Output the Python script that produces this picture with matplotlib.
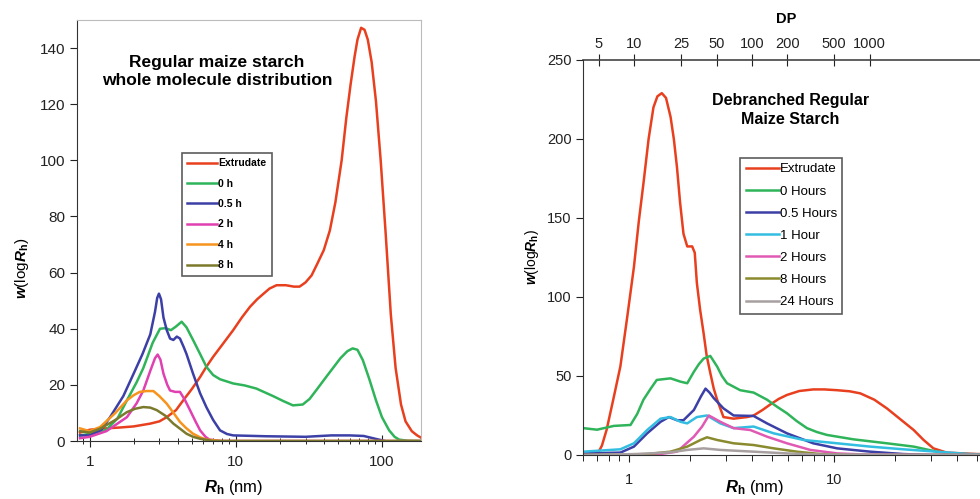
import numpy as np
import matplotlib
matplotlib.use("Agg")
import matplotlib.pyplot as plt

plt.rcParams['font.family'] = ['Liberation Sans', 'DejaVu Sans']
plt.rcParams['mathtext.fontset'] = 'custom'
plt.rcParams['mathtext.rm'] = 'Liberation Sans:bold'
plt.rcParams['mathtext.it'] = 'Liberation Sans:italic:bold'

# --- Left panel: whole molecule distribution (Rh in nm, w(logRh)) ---
L_ext_x = [0.86, 1.0, 1.18, 1.6, 2.0, 2.6, 3.0, 3.37, 3.9, 4.37, 5.0, 5.7, 6.3, 7.0, 8.0, 9.6,
           11.0, 12.5, 14.0, 15.5, 17.0, 19.0, 22.0, 25.0, 27.3, 30.0, 33.0, 36.0, 40.0, 44.0,
           48.0, 53.0, 57.0, 61.0, 65.0, 68.0, 72.0, 76.0, 80.0, 85.0, 91.0, 98.0, 106.0,
           115.0, 124.0, 135.0, 145.0, 160.0, 174.0, 185.0]
L_ext_y = [3.0, 4.0, 4.4, 4.8, 5.2, 6.2, 7.0, 8.5, 11.0, 14.5, 18.5, 22.8, 26.5, 30.0, 34.0,
           39.5, 44.0, 47.8, 50.5, 52.5, 54.3, 55.5, 55.5, 55.0, 55.0, 56.5, 59.0, 63.0, 68.0,
           75.0, 85.0, 100.0, 115.0, 127.0, 137.0, 143.0, 147.2, 146.5, 143.0, 135.0, 121.0,
           100.0, 74.0, 45.0, 26.0, 13.0, 7.0, 3.5, 2.0, 1.2]

L_0h_x = [0.86, 1.0, 1.3, 1.55, 1.8, 2.1, 2.33, 2.7, 3.03, 3.3, 3.6, 3.9, 4.26, 4.6, 5.1, 5.7,
          6.3, 7.0, 7.8, 9.6, 11.5, 13.8, 18.0, 21.0, 24.6, 28.7, 32.0, 36.0, 41.5, 47.0,
          52.0, 58.0, 63.0, 68.0, 74.0, 82.0, 91.0, 100.0, 112.0, 122.0, 131.0, 150.0, 185.0]
L_0h_y = [2.0, 2.5, 4.0, 8.0, 14.5, 21.0, 26.0, 35.0, 40.0, 40.2, 39.5, 40.8, 42.5, 40.5, 36.0,
          31.0, 26.4, 23.5, 22.0, 20.5, 19.8, 18.7, 16.0, 14.3, 12.7, 13.0, 15.0, 18.5, 22.8,
          26.5, 29.5, 32.0, 33.0, 32.5, 28.8, 22.0, 14.5, 8.5, 3.8, 1.5, 0.5, 0.1, 0.0]

L_05h_x = [0.86, 1.0, 1.2, 1.38, 1.7, 2.0, 2.3, 2.6, 2.8, 2.9, 2.98, 3.08, 3.2, 3.37, 3.55,
           3.74, 3.95, 4.15, 4.4, 4.6, 5.1, 5.7, 6.3, 7.0, 7.8, 8.7, 9.6, 16.0, 30.0, 45.0,
           60.0, 75.0, 90.0, 105.0]
L_05h_y = [2.0, 2.0, 4.0, 8.5, 16.0, 24.0, 31.0, 38.0, 46.0, 51.0, 52.5, 50.5, 44.0, 39.5, 36.5,
           36.0, 37.2, 36.5, 33.5, 31.0, 24.0, 17.0, 12.0, 7.5, 3.8, 2.5, 2.0, 1.7, 1.5, 2.0,
           2.0, 1.8, 0.8, 0.0]

L_2h_x = [0.86, 1.0, 1.3, 1.8, 2.1, 2.33, 2.6, 2.8, 2.92, 3.05, 3.2, 3.4, 3.55, 3.85, 4.15,
          4.5, 4.86, 5.3, 5.7, 6.2, 6.6, 8.0, 185.0]
L_2h_y = [1.0, 1.5, 3.5, 8.5, 13.5, 18.0, 25.0, 29.5, 30.8, 29.0, 24.0, 20.0, 18.0, 17.5, 17.5,
          14.5, 11.0, 7.0, 3.8, 1.5, 0.5, 0.0, 0.0]

L_4h_x = [0.86, 1.0, 1.18, 1.5, 1.8, 2.0, 2.2, 2.45, 2.73, 3.0, 3.37, 3.75, 4.15, 4.6, 5.1, 5.7,
          6.3, 8.0, 185.0]
L_4h_y = [4.5, 3.5, 5.0, 10.0, 14.5, 16.3, 17.5, 17.8, 17.8, 16.0, 13.3, 10.0, 6.8, 4.5, 2.6,
          1.3, 0.5, 0.0, 0.0]

L_8h_x = [0.86, 1.0, 1.18, 1.5, 1.8, 2.05, 2.33, 2.6, 2.88, 3.3, 3.74, 4.2, 4.6, 5.1, 5.7, 7.0,
          185.0]
L_8h_y = [3.5, 3.0, 4.4, 7.5, 10.3, 11.5, 12.1, 11.9, 11.0, 9.0, 6.2, 4.2, 2.6, 1.5, 0.8, 0.0,
          0.0]

left_series = [
    ('Extrudate', L_ext_x, L_ext_y, '#e8401f'),
    ('0 h', L_0h_x, L_0h_y, '#2fb45a'),
    ('0.5 h', L_05h_x, L_05h_y, '#3c3fa6'),
    ('2 h', L_2h_x, L_2h_y, '#e040b0'),
    ('4 h', L_4h_x, L_4h_y, '#f7941d'),
    ('8 h', L_8h_x, L_8h_y, '#7b7a2c'),
]

# --- Right panel: debranched distribution ---
R_ext_x = [0.60, 0.70, 0.74, 0.78, 0.84, 0.91, 0.98, 1.06, 1.12, 1.18, 1.25, 1.32, 1.38, 1.45,
           1.52, 1.6, 1.66, 1.72, 1.78, 1.85, 1.93, 2.04, 2.1, 2.15, 2.23, 2.32, 2.4, 2.5, 2.6,
           2.7, 2.9, 3.25, 3.78, 4.07, 4.5, 4.91, 5.4, 5.92, 6.8, 7.95, 9.0, 10.4, 12.0, 13.5,
           15.8, 18.2, 21.0, 24.6, 27.5, 30.7, 35.7, 50.0, 58.0]
R_ext_y = [0.0, 0.0, 6.0, 16.0, 35.0, 56.0, 86.0, 119.0, 148.0, 172.0, 200.0, 220.0, 227.0,
           229.0, 226.0, 214.0, 200.0, 182.0, 160.0, 140.0, 132.0, 132.0, 128.0, 109.0, 92.0,
           77.0, 63.0, 52.0, 42.0, 35.0, 24.0, 23.0, 24.0, 25.0, 28.5, 32.0, 35.5, 38.0, 40.5,
           41.5, 41.5, 41.0, 40.3, 39.0, 35.0, 29.5, 23.0, 15.8, 9.5, 4.2, 1.5, 0.6, 0.5]

R_0h_x = [0.60, 0.70, 0.845, 1.02, 1.1, 1.18, 1.28, 1.37, 1.6, 1.79, 1.93, 2.08, 2.2, 2.32, 2.5,
          2.7, 2.85, 3.02, 3.5, 4.07, 4.73, 5.3, 5.92, 6.6, 7.41, 8.3, 9.27, 12.5, 18.2, 24.6,
          31.9, 38.5, 50.0, 58.0]
R_0h_y = [17.0, 16.0, 18.4, 19.0, 26.0, 35.0, 42.0, 47.5, 48.5, 46.4, 45.4, 52.7, 57.5, 61.0,
          62.7, 56.0, 50.0, 45.4, 41.0, 39.5, 35.0, 30.5, 26.4, 21.5, 17.0, 14.5, 12.7, 9.9,
          7.4, 5.3, 2.1, 0.6, 0.0, 0.0]

R_05h_x = [0.60, 0.91, 1.06, 1.23, 1.43, 1.57, 1.72, 1.85, 2.08, 2.25, 2.37, 2.48, 2.6, 2.9,
           3.25, 4.07, 4.73, 5.92, 7.95, 10.4, 15.1, 21.9, 30.0, 58.0]
R_05h_y = [1.0, 1.5, 5.3, 13.7, 21.0, 24.0, 22.0, 22.0, 28.5, 37.0, 42.0, 39.5, 36.0, 29.5,
           25.0, 24.7, 20.0, 13.7, 7.4, 4.2, 2.1, 0.6, 0.0, 0.0]

R_1h_x = [0.60, 0.91, 1.06, 1.23, 1.43, 1.6, 1.79, 1.93, 2.15, 2.41, 2.8, 3.25, 4.07, 5.1, 7.14,
          10.4, 15.1, 21.9, 31.9, 46.0, 58.0]
R_1h_y = [2.1, 3.6, 7.4, 15.8, 23.0, 24.0, 21.0, 20.0, 24.0, 25.0, 20.0, 17.0, 18.0, 13.7, 9.5,
          7.4, 5.3, 3.6, 2.1, 0.6, 0.3]

R_2h_x = [0.60, 1.32, 1.72, 2.08, 2.28, 2.46, 2.8, 3.25, 3.92, 4.73, 5.92, 7.7, 10.4, 14.0, 58.0]
R_2h_y = [0.0, 0.0, 2.1, 11.6, 18.0, 25.0, 21.0, 17.0, 15.8, 11.6, 7.4, 3.2, 1.0, 0.3, 0.0]

R_8h_x = [0.60, 1.23, 1.6, 1.93, 2.24, 2.41, 2.7, 3.25, 4.07, 5.1, 6.62, 8.6, 12.0, 58.0]
R_8h_y = [0.0, 0.6, 2.1, 5.3, 9.5, 11.2, 9.5, 7.4, 6.3, 4.2, 2.1, 0.6, 0.0, 0.0]

R_24h_x = [0.60, 1.1, 1.6, 1.93, 2.32, 2.8, 4.07, 5.92, 8.5, 58.0]
R_24h_y = [0.0, 0.6, 1.7, 3.2, 4.2, 3.2, 2.1, 1.0, 0.3, 0.0]

right_series = [
    ('Extrudate', R_ext_x, R_ext_y, '#e8401f'),
    ('0 Hours', R_0h_x, R_0h_y, '#2fb45a'),
    ('0.5 Hours', R_05h_x, R_05h_y, '#3c3fa6'),
    ('1 Hour', R_1h_x, R_1h_y, '#33bde0'),
    ('2 Hours', R_2h_x, R_2h_y, '#e05ab4'),
    ('8 Hours', R_8h_x, R_8h_y, '#8a8a2e'),
    ('24 Hours', R_24h_x, R_24h_y, '#a8a0a0'),
]

DP_TICKS = [5, 10, 25, 50, 100, 200, 500, 1000]
DP_A, DP_B = 0.284, 0.574   # Rh = a * DP^b

fig = plt.figure(figsize=(9.8, 4.99), dpi=100)

# ---------------- Left panel ----------------
ax1 = fig.add_axes([0.0786, 0.1162, 0.351, 0.8438])
for label, x, y, c in left_series:
    ax1.plot(x, y, color=c, lw=1.8, label=label)
ax1.set_xscale('log')
ax1.set_xlim(0.82, 185)
ax1.set_ylim(0, 150)
ax1.set_yticks(range(0, 141, 20))
ax1.set_xticks([1, 10, 100])
ax1.set_xticklabels(['1', '10', '100'])
ax1.tick_params(axis='both', labelsize=11, colors='#222222', length=5)
ax1.tick_params(axis='x', which='major', direction='inout', length=8, pad=6)
ax1.tick_params(axis='x', which='minor', direction='inout', length=4)
ax1.tick_params(axis='y', direction='out', length=5)
for s in ['top', 'right']:
    ax1.spines[s].set_color('#bbbbbb')
for s in ['left', 'bottom']:
    ax1.spines[s].set_color('#333333')
ax1.text(0.407, 0.878, 'Regular maize starch\nwhole molecule distribution',
         transform=ax1.transAxes, ha='center', va='center', fontsize=12.5,
         fontweight='bold', linespacing=1.3)
leg1 = ax1.legend(loc='upper left', bbox_to_anchor=(0.305, 0.684),
                  prop={'weight': 'bold', 'size': 7.5}, frameon=True, fancybox=False,
                  labelspacing=1.0, handlelength=2.9, handletextpad=0.1,
                  borderpad=0.5, borderaxespad=0)
leg1.get_frame().set_edgecolor('#333333')
leg1.get_frame().set_linewidth(1.2)
fig.text(0.022, 0.462, r'$w$(log$R_{\mathrm{h}}$)', rotation=90, ha='center',
         va='center', fontsize=11)
fig.text(0.238, 0.004, r'$R_{\mathrm{h}}$ (nm)', ha='center', va='bottom', fontsize=12)

# ---------------- Right panel ----------------
ax2 = fig.add_axes([0.5952, 0.0882, 0.415, 0.7916])
for label, x, y, c in right_series:
    ax2.plot(x, y, color=c, lw=1.8, label=label)
ax2.set_xscale('log')
ax2.set_xlim(0.6, 58)
ax2.set_ylim(0, 250)
ax2.set_yticks(range(0, 251, 50))
ax2.set_xticks([1, 10])
ax2.set_xticklabels(['1', '10'])
ax2.tick_params(axis='both', labelsize=10.5, colors='#222222')
ax2.tick_params(axis='x', which='major', direction='out', length=5, pad=8)
ax2.tick_params(axis='x', which='minor', direction='out', length=4)
ax2.tick_params(axis='y', direction='out', length=5)
ax2.spines['right'].set_visible(False)
ax2.spines['top'].set_visible(False)
for s in ['left', 'bottom']:
    ax2.spines[s].set_color('#333333')

sec = ax2.secondary_xaxis('top', functions=(lambda r: (np.clip(r, 1e-6, None) / DP_A) ** (1 / DP_B),
                                            lambda d: DP_A * np.clip(d, 1e-6, None) ** DP_B))
sec.set_xticks(DP_TICKS)
sec.set_xticklabels([str(d) for d in DP_TICKS])
sec.xaxis.set_minor_locator(matplotlib.ticker.NullLocator())
sec.tick_params(axis='x', direction='inout', length=9, labelsize=10.5, pad=2, colors='#222222')
sec.spines['top'].set_color('#444444')
sec.spines['top'].set_linewidth(1.2)
sec.set_xlabel('DP', fontsize=10.5, fontweight='bold', labelpad=10)

ax2.text(0.509, 0.873, 'Debranched Regular\nMaize Starch', transform=ax2.transAxes,
         ha='center', va='center', fontsize=11.5, fontweight='bold', linespacing=1.35)
leg2 = ax2.legend(loc='upper left', bbox_to_anchor=(0.386, 0.752),
                  prop={'family': ['Liberation Sans Narrow', 'Liberation Sans'], 'size': 9.5},
                  frameon=True, fancybox=False, labelspacing=0.75, handlelength=2.5,
                  handletextpad=0.1, borderpad=0.4, borderaxespad=0)
leg2.get_frame().set_edgecolor('#333333')
leg2.get_frame().set_linewidth(1.2)
fig.text(0.543, 0.485, r'$w$(log$R_{\mathrm{h}}$)', rotation=90, ha='center',
         va='center', fontsize=10)
fig.text(0.770, 0.004, r'$R_{\mathrm{h}}$ (nm)', ha='center', va='bottom', fontsize=12)

fig.savefig('out.png', dpi=100)
